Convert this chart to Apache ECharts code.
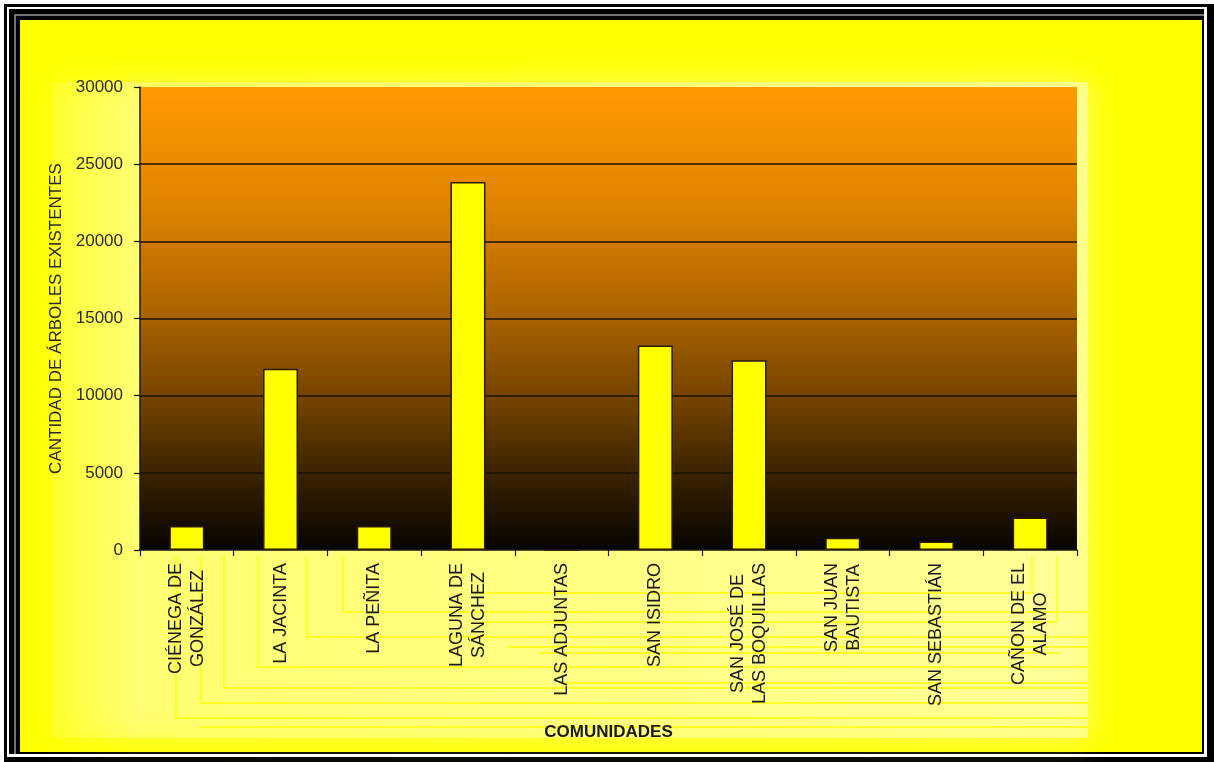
<!DOCTYPE html>
<html>
<head>
<meta charset="utf-8">
<title>Cantidad de árboles existentes por comunidad</title>
<script src="https://cdn.jsdelivr.net/npm/echarts@6/dist/echarts.min.js"></script>
<style>
  html, body { margin: 0; padding: 0; background: #ffffff; }
  #chart { width: 1214px; height: 762px; }
</style>
</head>
<body>
<div id="chart"></div>
<script>
// Communities (category axis)
const comunidades = [
  'CIÉNEGA DE\nGONZÁLEZ',
  'LA JACINTA',
  'LA PEÑITA',
  'LAGUNA DE\nSÁNCHEZ',
  'LAS ADJUNTAS',
  'SAN ISIDRO',
  'SAN JOSÉ DE\nLAS BOQUILLAS',
  'SAN JUAN\nBAUTISTA',
  'SAN SEBASTIÁN',
  'CAÑON DE EL\nALAMO'
];

// Number of existing trees per community
const arboles = [1550, 11750, 1550, 23850, 0, 13250, 12300, 800, 550, 2100];

// Value axis ticks
const yMin = 0;
const yMax = 30000;
const yStep = 5000;

const FONT = '"Liberation Sans", Arial, sans-serif';

const chart = echarts.init(document.getElementById('chart'), null, { renderer: 'canvas' });

// Frame, pale panel and connector lines behind the chart
const frame = [
  { type: 'rect', z: -10, shape: { x: 0, y: 0, width: 1214, height: 762 }, style: { fill: '#ffffff' } },
  { type: 'rect', z: -9, shape: { x: 4, y: 4, width: 1210, height: 758 }, style: { fill: '#000000' } },
  { type: 'rect', z: -8, shape: { x: 7, y: 7, width: 1200, height: 750 }, style: { fill: '#ffffff' } },
  { type: 'rect', z: -7, shape: { x: 9, y: 9, width: 1195, height: 745 }, style: { fill: '#000000' } },
  { type: 'polyline', z: -6, shape: { points: [[15, 754], [15, 15], [1204, 15]] }, style: { stroke: '#9a9a9a', lineWidth: 1.5, fill: null } },
  { type: 'rect', z: -5, shape: { x: 20, y: 20, width: 1182, height: 732 }, style: { fill: '#ffff00' } },
  {
    type: 'rect', z: -4,
    shape: { x: 52, y: 82, width: 1036, height: 656 },
    style: {
      fill: new echarts.graphic.LinearGradient(0, 0, 1, 0, [
        { offset: 0, color: 'rgba(255,255,130,0.2)' },
        { offset: 0.08, color: 'rgba(255,255,150,0.5)' },
        { offset: 1, color: 'rgba(255,255,170,0.7)' }
      ]),
      shadowBlur: 30,
      shadowColor: 'rgba(255,255,170,0.9)'
    }
  }
];

const connectors = [
  [[176, 556], [176, 718], [1088, 718]],
  [[201, 556], [201, 703], [1088, 703]],
  [[224, 556], [224, 688], [1088, 688]],
  [[258, 556], [258, 667], [1088, 667]],
  [[307, 556], [307, 637], [1088, 637]],
  [[343, 556], [343, 612], [1088, 612]],
  [[1032, 556], [1032, 593], [483, 593]],
  [[1057, 556], [1057, 622], [483, 622]],
  [[507, 647], [1088, 647]],
  [[540, 653], [1060, 653]],
  [[560, 683], [1088, 683]],
  [[200, 727], [1088, 727]]
].map(function (pts) {
  return {
    type: 'polyline', z: -3,
    shape: { points: pts },
    style: { stroke: 'rgba(255,255,0,0.7)', lineWidth: 2, fill: null }
  };
});

const plotFill = new echarts.graphic.LinearGradient(0, 0, 0, 1, [
  { offset: 0, color: '#ff9a00' },
  { offset: 0.25, color: '#e08400' },
  { offset: 0.5, color: '#a86200' },
  { offset: 0.7, color: '#6c3e00' },
  { offset: 0.85, color: '#352000' },
  { offset: 1, color: '#060300' }
]);

chart.setOption({
  backgroundColor: '#ffff00',
  animation: false,
  graphic: frame.concat(connectors),
  grid: {
    left: 140, right: 137, top: 87, bottom: 212,
    show: true,
    backgroundColor: plotFill,
    borderWidth: 0
  },
  xAxis: {
    type: 'category',
    data: comunidades,
    boundaryGap: true,
    name: 'COMUNIDADES',
    nameLocation: 'middle',
    nameGap: 174,
    nameTextStyle: { fontFamily: FONT, fontSize: 17, fontWeight: 'bold', color: '#1a1a1a' },
    axisLine: { show: true, lineStyle: { color: '#1a1a1a', width: 1.5 } },
    axisTick: { show: true, alignWithLabel: false, length: 6, lineStyle: { color: '#1a1a1a', width: 1.2 } },
    axisLabel: {
      interval: 0,
      rotate: 90,
      margin: 13,
      fontFamily: FONT,
      fontSize: 18,
      color: '#1a1a1a',
      lineHeight: 22,
      formatter: function (v) {
        return v.split('\n').map(function (l) { return '{c|' + l + '}'; }).join('\n');
      },
      rich: {
        c: { align: 'center', fontFamily: FONT, fontSize: 18, color: '#1a1a1a', lineHeight: 22 }
      }
    },
    splitLine: { show: false }
  },
  yAxis: {
    type: 'value',
    min: yMin,
    max: yMax,
    interval: yStep,
    name: 'CANTIDAD DE ÁRBOLES EXISTENTES',
    nameLocation: 'middle',
    nameRotate: 90,
    nameGap: 62,
    nameTextStyle: { fontFamily: FONT, fontSize: 17, color: '#2a2a2a' },
    axisLine: { show: true, lineStyle: { color: '#1a1a1a', width: 1.5 } },
    axisTick: { show: true, length: 6, lineStyle: { color: '#1a1a1a', width: 1.2 } },
    axisLabel: {
      margin: 17,
      fontFamily: FONT,
      fontSize: 17,
      color: '#2a2a2a',
      formatter: function (v) { return String(v); }
    },
    splitLine: {
      show: true,
      showMinLine: false,
      showMaxLine: false,
      lineStyle: { color: '#1e1204', width: 1.5 }
    }
  },
  series: [{
    type: 'bar',
    data: arboles,
    barWidth: 35,
    itemStyle: { color: '#ffff00', borderColor: '#2a1a08', borderWidth: 1.5 }
  }]
});
</script>
</body>
</html>
